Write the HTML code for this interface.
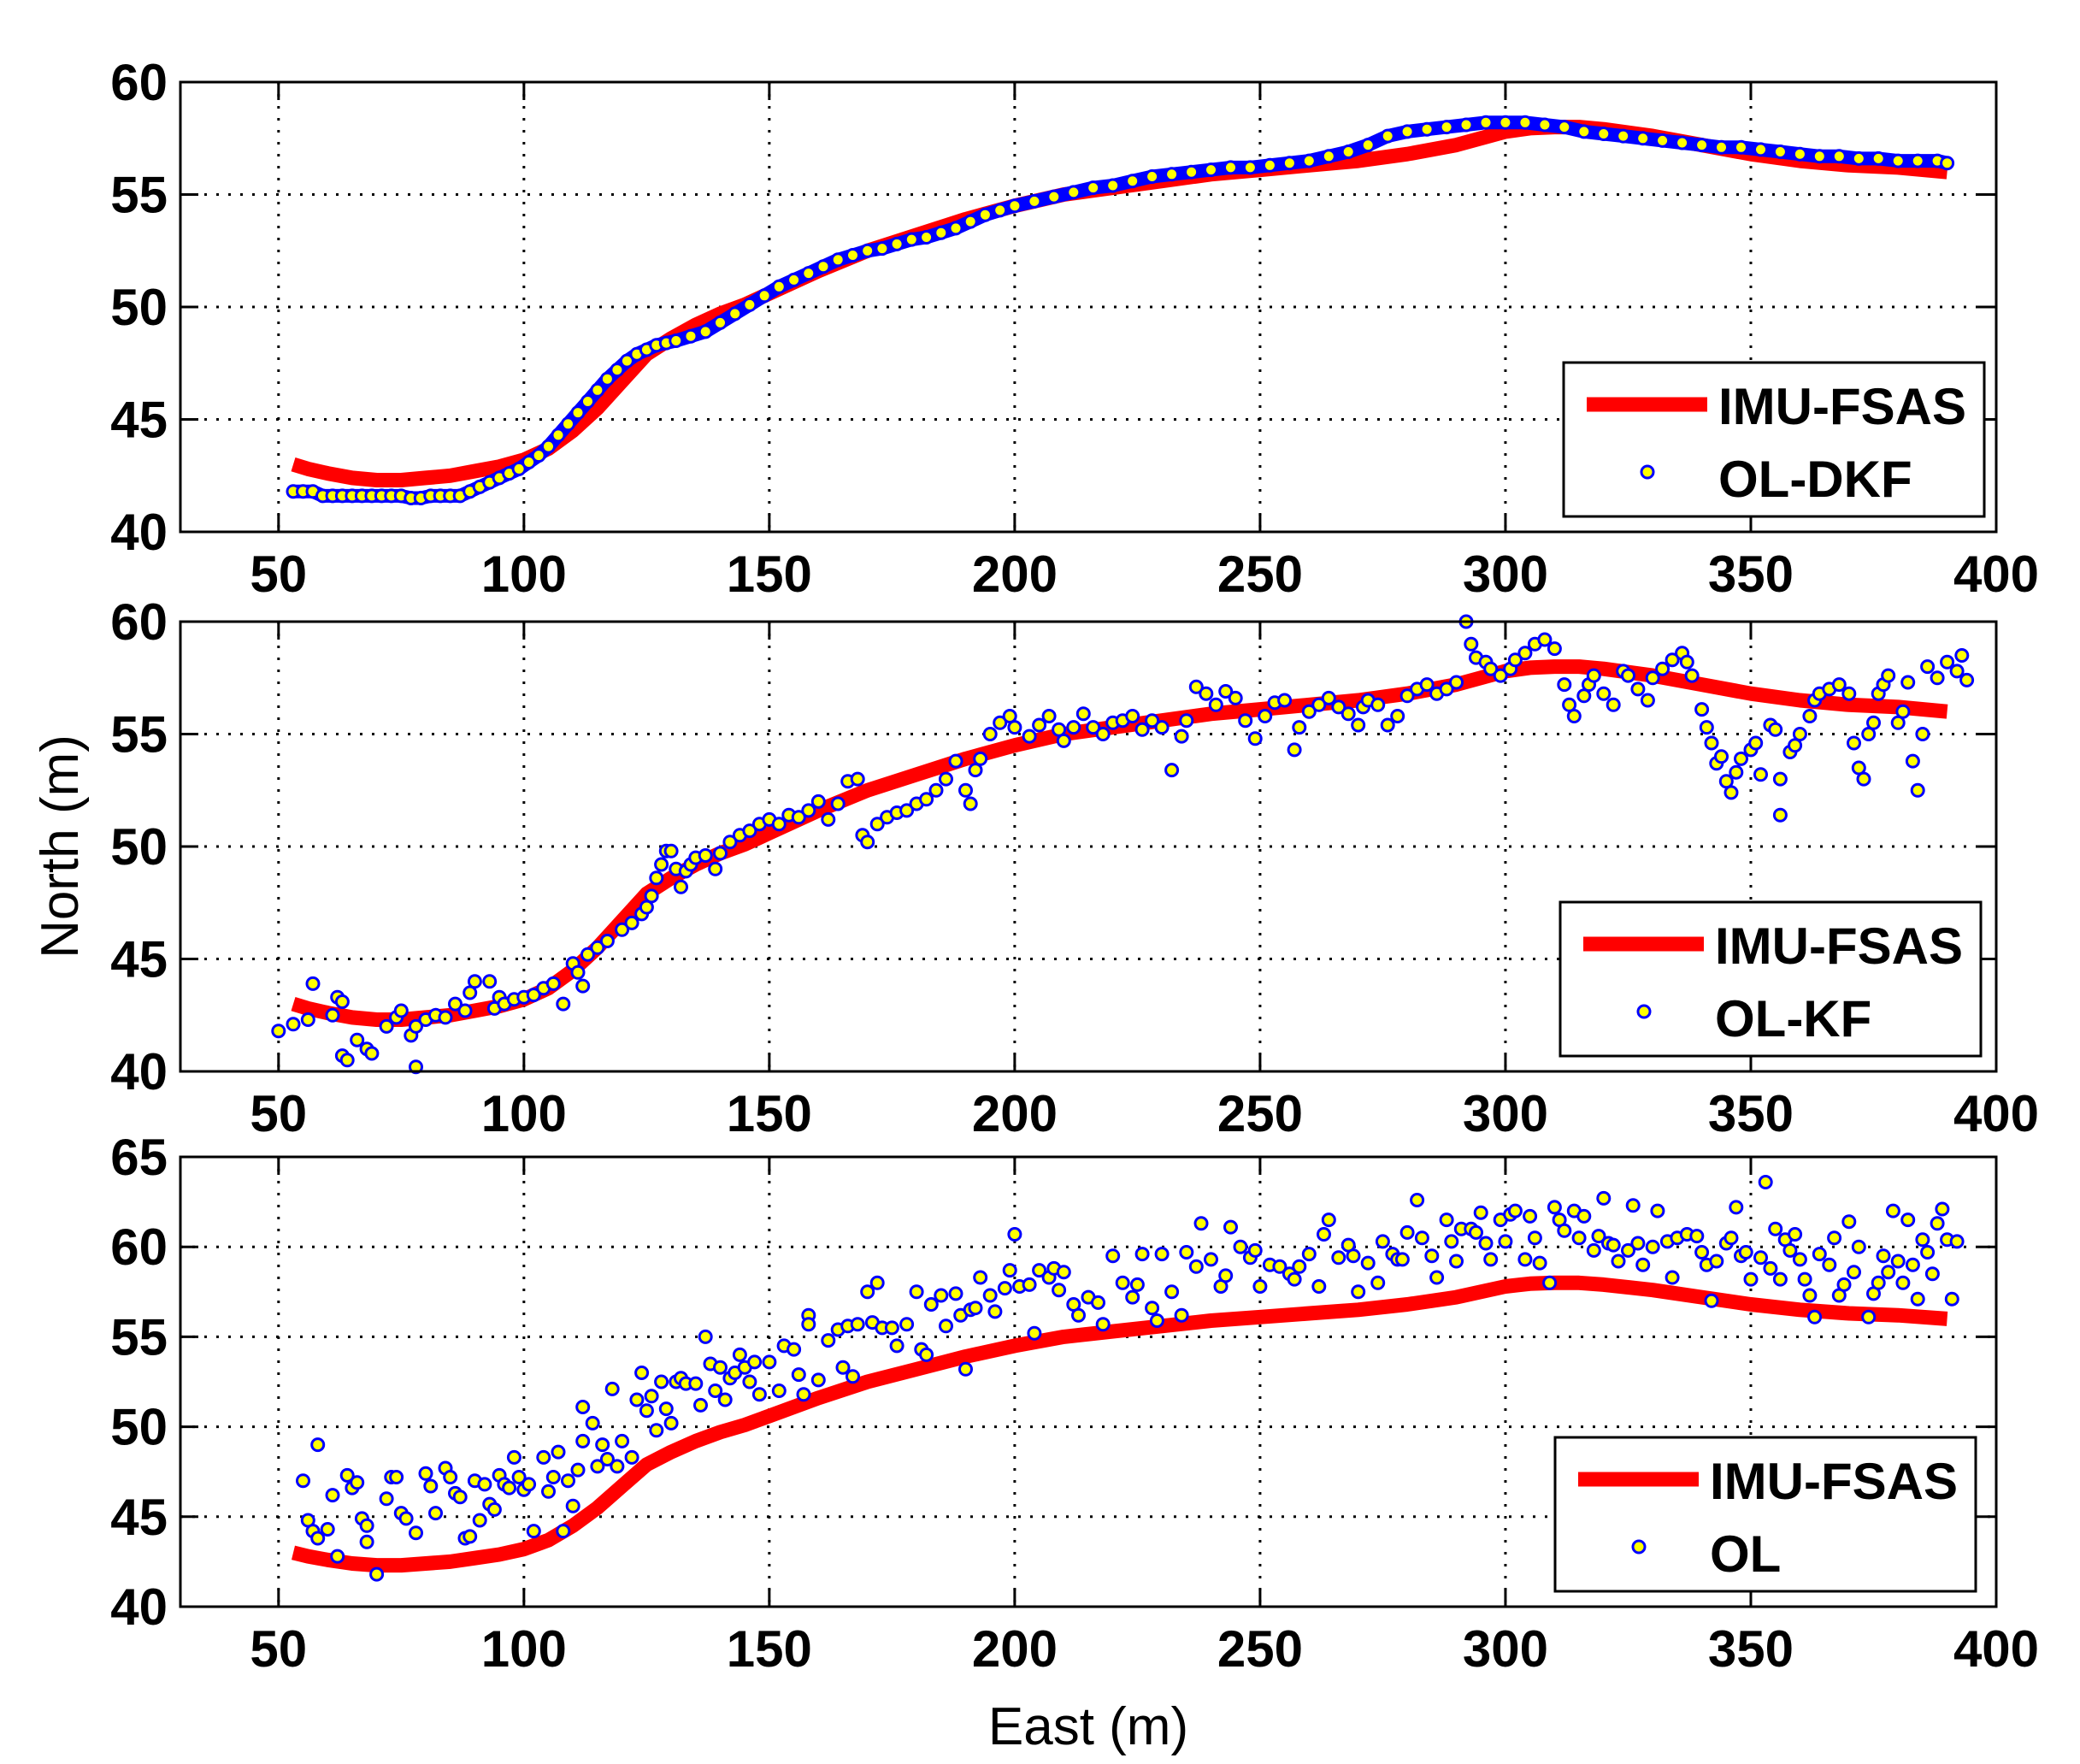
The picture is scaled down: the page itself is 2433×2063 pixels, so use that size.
<!DOCTYPE html>
<html><head><meta charset="utf-8">
<style>
html,body{margin:0;padding:0;background:#fff;}
svg{display:block;}
text{font-family:"Liberation Sans",Arial,sans-serif;font-weight:bold;fill:#000;}
</style></head>
<body>
<svg id="chart" width="2433" height="2063" viewBox="0 0 2433 2063" xmlns="http://www.w3.org/2000/svg">
<rect width="2433" height="2063" fill="#fff"/>
<text x="1273" y="2040" font-size="62" font-weight="normal" style="font-weight:normal" text-anchor="middle">East (m)</text>
<text x="0" y="0" font-size="62" style="font-weight:normal" text-anchor="middle" transform="translate(91,990) rotate(-90)">North (m)</text>
</svg>
<script>
// ---- data ----
const xTicks = [50,100,150,200,250,300,350,400];
const yTicksA = [40,45,50,55,60];
const yTicksC = [40,45,50,55,60,65];
const legendLabels = ["OL-DKF","OL-KF","OL"];
const refLabel = "IMU-FSAS";

const refX = [53,56,60,65,70,75,80,85,90,95,100,105,110,115,120,125,130,135,140,145,150,160,170,180,190,200,210,220,230,240,250,260,270,280,290,300,305,310,315,320,330,340,350,360,370,380,390];
const refY = [43,42.8,42.6,42.4,42.3,42.3,42.4,42.5,42.7,42.9,43.2,43.7,44.5,45.5,46.7,47.9,48.6,49.2,49.7,50.1,50.6,51.6,52.5,53.2,53.9,54.5,55.0,55.3,55.6,55.9,56.1,56.3,56.5,56.8,57.2,57.8,57.95,58.0,58.0,57.9,57.6,57.2,56.8,56.5,56.3,56.2,56.0];

const dkfX = [53,55,57,59,61,63,65,67,69,71,73,75,77,79,81,83,85,87,89,91,93,95,97,99,101,103,105,107,109,111,113,115,117,119,121,123,125,127,129,131,134,137,140,143,146,149,152,155,158,161,164,167,170,173,176,179,182,185,188,191,194,197,200,204,208,212,216,220,224,228,232,236,240,244,248,252,256,260,264,268,272,276,280,284,288,292,296,300,304,308,312,316,320,324,328,332,336,340,344,348,352,356,360,364,368,372,376,380,384,388,390];
const dkfY = [41.8,41.8,41.8,41.6,41.6,41.6,41.6,41.6,41.6,41.6,41.6,41.6,41.5,41.5,41.6,41.6,41.6,41.6,41.8,42.0,42.2,42.4,42.6,42.8,43.1,43.4,43.8,44.3,44.8,45.3,45.8,46.3,46.8,47.2,47.6,47.9,48.1,48.3,48.4,48.5,48.7,48.9,49.3,49.7,50.1,50.5,50.9,51.2,51.5,51.8,52.1,52.3,52.5,52.6,52.8,53.0,53.1,53.3,53.5,53.8,54.1,54.3,54.5,54.7,54.9,55.1,55.3,55.4,55.6,55.8,55.9,56.0,56.1,56.2,56.2,56.3,56.4,56.5,56.7,56.9,57.2,57.6,57.8,57.9,58.0,58.1,58.2,58.2,58.2,58.1,58.0,57.8,57.7,57.6,57.5,57.4,57.3,57.2,57.1,57.1,57.0,56.9,56.8,56.7,56.7,56.6,56.6,56.5,56.5,56.5,56.4];

const kfX = [50,53,56,57,61,62,63,63,64,66,68,69,72,74,75,77,78,78,80,82,84,86,88,89,90,93,94,95,96,98,100,102,104,106,108,110,111,112,113,115,117,120,122,124,125,126,127,128,129,130,131,132,133,134,135,137,139,140,142,144,146,148,150,152,154,156,158,160,162,164,166,168,169,170,172,174,176,178,180,182,184,186,188,190,191,192,193,195,197,199,200,203,205,207,209,210,212,214,216,218,220,222,224,226,228,230,232,234,235,237,239,241,243,245,247,249,251,253,255,257,258,260,262,264,266,268,270,271,272,274,276,278,280,282,284,286,288,290,292,293,294,296,297,299,301,302,304,306,308,310,312,313,314,316,317,318,320,322,324,325,327,329,330,332,334,336,337,338,340,341,342,343,344,345,346,347,348,350,351,352,354,355,356,356,358,359,360,362,363,364,366,368,370,371,372,373,374,375,376,377,378,380,381,382,383,384,385,386,388,390,392,393,394];
const kfY = [41.8,42.1,42.3,43.9,42.5,43.3,43.1,40.7,40.5,41.4,41.0,40.8,42.0,42.4,42.7,41.6,40.2,42.0,42.3,42.5,42.4,43.0,42.7,43.5,44.0,44.0,42.8,43.3,43.0,43.2,43.3,43.4,43.7,43.9,43.0,44.8,44.4,43.8,45.2,45.5,45.8,46.3,46.6,47.0,47.3,47.8,48.6,49.2,49.8,49.8,49.0,48.2,48.9,49.2,49.5,49.6,49.0,49.7,50.2,50.5,50.7,51.0,51.2,51.0,51.4,51.3,51.6,52.0,51.2,51.9,52.9,53.0,50.5,50.2,51.0,51.3,51.5,51.6,51.9,52.1,52.5,53.0,53.8,52.5,51.9,53.4,53.9,55.0,55.5,55.8,55.3,54.9,55.4,55.8,55.2,54.7,55.3,55.9,55.3,55.0,55.5,55.6,55.8,55.2,55.6,55.3,53.4,54.9,55.6,57.1,56.8,56.3,56.9,56.6,55.6,54.8,55.8,56.4,56.5,54.3,55.3,56.0,56.3,56.6,56.2,55.9,55.4,56.2,56.5,56.3,55.4,55.8,56.7,57.0,57.2,56.8,57.0,57.3,60.0,59.0,58.4,58.2,57.9,57.6,57.9,58.3,58.6,59.0,59.2,58.8,57.2,56.3,55.8,56.7,57.2,57.6,56.8,56.3,57.8,57.6,57.0,56.5,57.5,57.9,58.3,58.6,58.2,57.6,56.1,55.3,54.6,53.7,54.0,52.9,52.4,53.3,53.9,54.3,54.6,53.2,55.4,55.2,53.0,51.4,54.2,54.5,55.0,55.8,56.5,56.8,57.0,57.2,56.8,54.6,53.5,53.0,55.0,55.5,56.8,57.2,57.6,55.5,56.0,57.3,53.8,52.5,55.0,58.0,57.5,58.2,57.8,58.5,57.4];

const olX = [55,56,57,58,58,60,61,62,64,65,66,67,68,68,70,72,73,74,75,76,78,80,81,82,84,85,86,87,88,89,90,91,92,93,94,95,96,97,98,99,100,101,102,104,105,106,107,108,109,110,111,112,112,114,115,116,117,118,119,120,122,123,124,125,126,127,128,129,130,131,132,133,135,136,137,138,139,140,141,142,143,144,145,146,147,148,150,152,153,155,156,157,158,158,160,162,164,165,166,167,168,170,171,172,173,175,176,178,180,181,182,183,185,186,188,189,190,191,192,193,195,196,198,199,200,201,203,204,205,207,208,209,210,212,213,215,217,218,220,222,224,225,226,228,229,230,232,234,235,237,238,240,242,243,244,246,248,249,250,252,254,256,257,258,260,262,263,264,266,268,269,270,272,274,275,277,278,279,280,282,283,285,286,288,289,290,291,293,294,295,296,297,299,300,301,302,304,305,306,307,309,310,311,312,314,315,316,318,319,320,321,322,323,325,326,327,328,330,331,333,334,335,337,339,340,341,342,343,345,346,347,348,349,350,352,353,354,355,356,357,358,359,360,361,362,363,364,366,367,368,369,370,371,372,374,375,376,377,378,379,380,381,382,383,384,385,386,387,388,389,390,391,392];
const olY = [47,44.8,44.2,43.8,49,44.3,46.2,42.8,47.3,46.6,46.9,44.9,44.5,43.6,41.8,46.0,47.2,47.2,45.2,44.9,44.1,47.4,46.7,45.2,47.7,47.2,46.3,46.1,43.8,43.9,47.0,44.8,46.8,45.7,45.4,47.3,46.8,46.6,48.3,47.2,46.5,46.8,44.2,48.3,46.4,47.2,48.6,44.2,47.0,45.6,47.6,49.2,51.1,50.2,47.8,49.0,48.2,52.1,47.8,49.2,48.3,51.5,53.0,50.9,51.7,49.8,52.5,51.0,50.2,52.5,52.7,52.4,52.4,51.2,55.0,53.5,52.0,53.3,51.5,52.7,53.0,54.0,53.3,52.5,53.6,51.8,53.6,52.0,54.5,54.3,52.9,51.8,56.2,55.7,52.6,54.8,55.4,53.3,55.6,52.8,55.7,57.5,55.8,58.0,55.5,55.5,54.5,55.7,57.5,54.3,54.0,56.8,57.3,55.6,57.4,56.2,53.2,56.5,56.6,58.3,57.3,56.4,57.7,58.7,60.7,57.8,57.9,55.2,58.7,58.3,58.8,57.6,58.6,56.8,56.2,57.2,56.9,55.7,59.5,58.0,57.2,57.9,59.6,56.6,55.9,59.6,57.5,56.2,59.7,58.9,61.3,59.3,57.8,58.4,61.1,60.0,59.4,59.8,57.8,59.0,58.9,58.5,58.2,58.9,59.6,57.8,60.7,61.5,59.4,60.1,59.5,57.5,59.1,58.0,60.3,59.6,59.3,59.3,60.8,62.6,60.5,59.5,58.3,61.5,60.3,59.2,61.0,61.0,60.8,61.9,60.2,59.3,61.5,60.3,61.8,62.0,59.3,61.7,60.5,59.1,58.0,62.2,61.5,60.9,62.0,60.5,61.7,59.8,60.6,62.7,60.2,60.1,59.2,59.8,62.3,60.2,59.0,60.0,62.0,60.3,58.3,60.5,60.7,60.6,59.7,59.0,57.0,59.2,60.2,60.5,62.2,59.5,59.7,58.2,59.4,63.6,58.8,61.0,58.2,60.4,59.8,60.7,59.3,58.2,57.3,56.1,59.6,59.0,60.5,57.3,57.9,61.4,58.6,60.0,56.1,57.4,58.0,59.5,58.6,62.0,59.2,58.0,61.5,59.0,57.1,60.4,59.7,58.5,61.3,62.1,60.4,57.1,60.3];

// ---- layout ----
const NS = "http://www.w3.org/2000/svg";
const svg = document.getElementById("chart");
const L = 211, R = 2335, PH = 526;
const panels = [
  {top:96, ymin:40, ymax:60, ticks:yTicksA, sx:dkfX, sy:dkfY, label:legendLabels[0], trail:true, name:"ol-dkf"},
  {top:727, ymin:40, ymax:60, ticks:yTicksA, sx:kfX, sy:kfY, label:legendLabels[1], trail:false, name:"ol-kf"},
  {top:1353, ymin:40, ymax:65, ticks:yTicksC, sx:olX, sy:olY, label:legendLabels[2], trail:false, name:"ol"}
];
function xs(v){ return L + (v-30)/(400-30)*(R-L); }
function mk(tag, attrs, parent){
  const e = document.createElementNS(NS, tag);
  for (const k in attrs) e.setAttribute(k, attrs[k]);
  (parent||svg).appendChild(e);
  return e;
}

panels.forEach((p, pi) => {
  const B = p.top + PH;
  const ys = v => B - (v - p.ymin)/(p.ymax - p.ymin)*PH;
  const g = mk("g", {});
  
  

  xTicks.forEach(t => {
    const X = xs(t);
    if (t < 400) {
      const gl = mk("line", {x1:X, y1:p.top, x2:X, y2:B, stroke:"#000", "stroke-width":3, "stroke-dasharray":"3,11"}, g);
      
      
    }
    const t1 = mk("line", {x1:X, y1:B, x2:X, y2:B-21, stroke:"#000", "stroke-width":3}, g);
    
    
    const t2 = mk("line", {x1:X, y1:p.top, x2:X, y2:p.top+21, stroke:"#000", "stroke-width":3}, g);
    
    
    const tl = mk("text", {x:X, y:B+70, "font-size":60, "text-anchor":"middle"}, g);
    tl.textContent = t;
    
    
  });
  p.ticks.forEach(t => {
    const Y = ys(t);
    if (t > p.ymin && t < p.ymax) {
      const gl = mk("line", {x1:L, y1:Y, x2:R, y2:Y, stroke:"#000", "stroke-width":3, "stroke-dasharray":"3,11"}, g);
      
      
    }
    const t1 = mk("line", {x1:L, y1:Y, x2:L+21, y2:Y, stroke:"#000", "stroke-width":3}, g);
    
    
    const t2 = mk("line", {x1:R, y1:Y, x2:R-21, y2:Y, stroke:"#000", "stroke-width":3}, g);
    
    
    const tl = mk("text", {x:196, y:Y+21, "font-size":60, "text-anchor":"end"}, g);
    tl.textContent = t;
    
    
  });

  const refPts = refX.map((v,i) => xs(v).toFixed(1) + "," + ys(refY[i]).toFixed(1)).join(" ");
  const ref = mk("polyline", {points:refPts, fill:"none", stroke:"#ff0000", "stroke-width":17, "stroke-linejoin":"round"}, g);
  
  

  if (p.trail) {
    const tp = p.sx.map((v,i) => xs(v).toFixed(1) + "," + ys(p.sy[i]).toFixed(1)).join(" ");
    const band = mk("polyline", {points:tp, fill:"none", stroke:"#0000ff", "stroke-width":16, "stroke-linejoin":"round"}, g);
    
    
  }
  p.sx.forEach((v,i) => {
    const c = mk("circle", {cx:xs(v).toFixed(1), cy:ys(p.sy[i]).toFixed(1), r:7, fill:"#ffff00", stroke:"#0000ff", "stroke-width":3}, g);
    
    
  });

  const box = mk("rect", {x:L, y:p.top, width:R-L, height:PH, fill:"none", stroke:"#000", "stroke-width":3}, g);
  
  

  const lx = [1829,1825,1819][pi], lt = p.top + 328;
  const lg = mk("g", {}, g);
  
  
  mk("rect", {x:lx, y:lt, width:492, height:180, fill:"#fff", stroke:"#000", "stroke-width":3}, lg);
  const ls = mk("line", {x1:lx+27, y1:lt+49, x2:lx+168, y2:lt+49, stroke:"#ff0000", "stroke-width":17}, lg);
  
  
  const lt1 = mk("text", {x:lx+181, y:lt+72, "font-size":60}, lg);
  lt1.textContent = refLabel;
  
  
  const lm = mk("circle", {cx:lx+98, cy:lt+128, r:7, fill:"#ffff00", stroke:"#0000ff", "stroke-width":3}, lg);
  
  
  const lt2 = mk("text", {x:lx+181, y:lt+157, "font-size":60}, lg);
  lt2.textContent = p.label;
  
  
});
</script>
</body></html>
